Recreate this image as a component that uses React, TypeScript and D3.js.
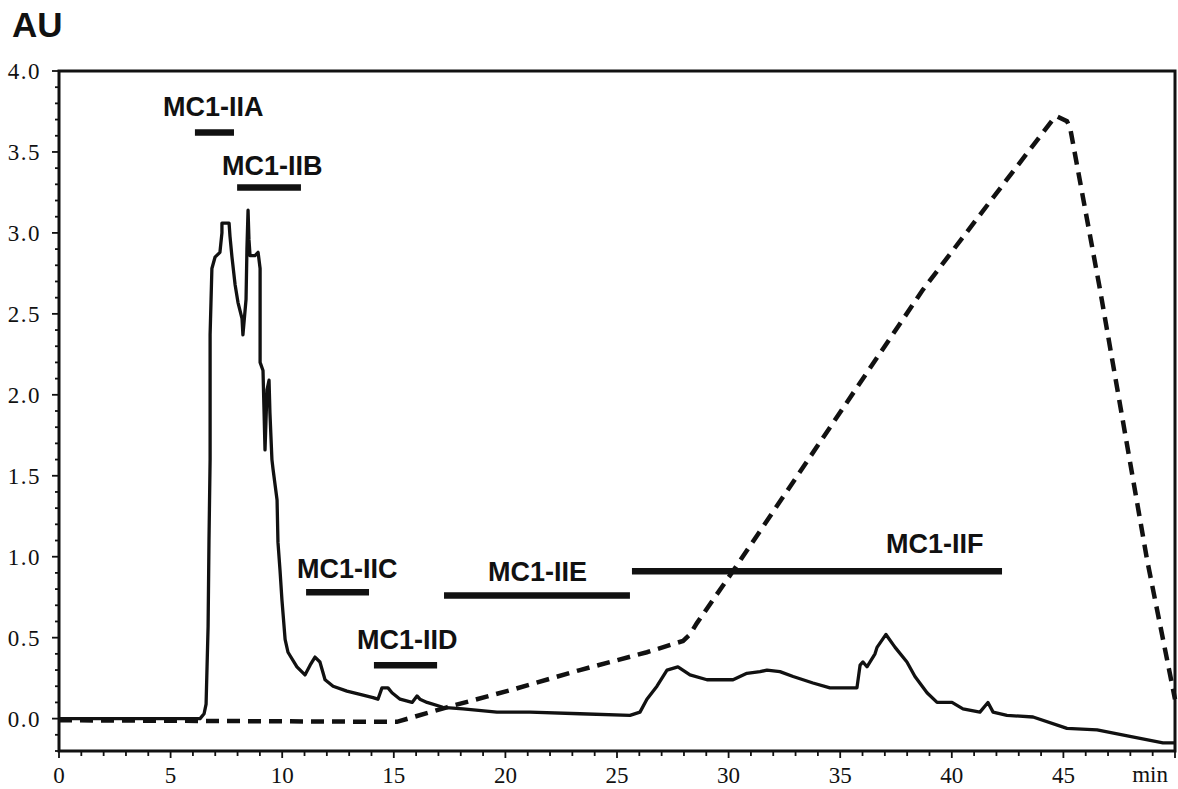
import { useEffect, useRef } from "react";
import * as d3 from "d3";

const W = 1178, H = 789;
const PLOT = { left: 59, right: 1175, top: 71, bottom: 751 };

// chromatogram trace (min, AU)
const traceTime = [
  0, 6.32, 6.5, 6.59, 6.68, 6.72, 6.77, 6.77, 6.77, 6.85, 6.99, 7.21, 7.3, 7.3, 7.62, 7.66, 7.75, 7.89,
  8.02, 8.2, 8.24, 8.38, 8.42, 8.47, 8.51, 8.56, 8.78, 8.92, 9.01, 9.01, 9.14, 9.23, 9.32, 9.41, 9.45,
  9.54, 9.59, 9.77, 9.81, 9.9, 9.99, 10.13, 10.26, 10.66, 11.02, 11.25, 11.47, 11.69, 11.92, 12.28,
  12.9, 13.49, 14.07, 14.29, 14.47, 14.74, 14.92, 15.28, 15.82, 16.04, 16.17, 16.49, 17.2, 18.1,
  19.62, 21.1, 23.34, 25.58, 26.03, 26.34, 26.79, 27.24, 27.73, 28.27, 29.03, 30.2, 30.82, 31.41,
  31.72, 32.3, 32.89, 33.78, 34.54, 35.75, 35.89, 36.02, 36.2, 36.56, 36.65, 37.05, 37.46, 37.99,
  38.35, 38.89, 39.34, 40.01, 40.5, 41.26, 41.62, 41.85, 42.47, 43.64, 45.16, 46.51, 47.98, 49.46, 50,
];
const traceAU = [
  0, 0, 0.03, 0.09, 0.57, 1.1, 1.6, 2.09, 2.37, 2.78, 2.85, 2.88, 3.0, 3.06, 3.06, 2.98, 2.85, 2.68,
  2.57, 2.47, 2.37, 2.59, 2.9, 3.14, 2.96, 2.86, 2.86, 2.88, 2.78, 2.2, 2.15, 1.66, 2.03, 2.09, 1.89,
  1.6, 1.54, 1.35, 1.09, 0.92, 0.73, 0.49, 0.41, 0.32, 0.27, 0.33, 0.38, 0.35, 0.24, 0.2,
  0.17, 0.15, 0.13, 0.12, 0.19, 0.19, 0.16, 0.12, 0.1, 0.14, 0.12, 0.1, 0.07, 0.06,
  0.04, 0.04, 0.03, 0.02, 0.04, 0.12, 0.2, 0.3, 0.32, 0.27, 0.24, 0.24, 0.28, 0.29,
  0.3, 0.29, 0.26, 0.22, 0.19, 0.19, 0.33, 0.35, 0.32, 0.4, 0.44, 0.52, 0.44, 0.35,
  0.26, 0.16, 0.1, 0.1, 0.06, 0.04, 0.1, 0.04, 0.02, 0.01, -0.06, -0.07, -0.11, -0.15, -0.15,
];

// gradient profile (dashed)
const gradTime = [0, 15.14, 17.38, 20.34, 23.34, 26.34, 27.96, 28.27, 28.58, 30.29, 38.71, 42.47, 44.53, 44.71, 45.16, 45.3, 46.64, 48.75, 50];
const gradLevel = [-0.01, -0.02, 0.07, 0.18, 0.3, 0.41, 0.48, 0.52, 0.59, 0.93, 2.65, 3.33, 3.7, 3.72, 3.69, 3.65, 2.65, 0.98, 0.12];

// collected fractions
const fractionNames = ["MC1-IIA", "MC1-IIB", "MC1-IIC", "MC1-IID", "MC1-IIE", "MC1-IIF"];
const fractionStart = [6.09, 7.98, 11.07, 14.11, 17.25, 25.67];
const fractionEnd = [7.84, 10.84, 13.89, 16.94, 25.58, 42.25];
const fractionLevel = [3.62, 3.28, 0.78, 0.33, 0.76, 0.91];
const labelTime = [4.66, 7.3, 10.66, 13.35, 19.22, 37.05];
const labelLevel = [3.72, 3.36, 0.87, 0.43, 0.85, 1.02];

const xTickLabels = ["0", "5", "10", "15", "20", "25", "30", "35", "40", "45"];
const yTickLabels = ["0.0", "0.5", "1.0", "1.5", "2.0", "2.5", "3.0", "3.5", "4.0"];

export default function App() {
  const svgRef = useRef<SVGSVGElement>(null);

  useEffect(() => {
    const svg = d3.select(svgRef.current);
    svg.selectAll("*").remove();

    const x = d3.scaleLinear().domain([0, 50]).range([PLOT.left, PLOT.right]);
    const y = d3.scaleLinear().domain([-0.2, 4.0]).range([PLOT.bottom, PLOT.top]);

    const serif = "Liberation Serif";
    const sans = "Liberation Sans";

    // y ticks (minor every 0.1)
    const yg = svg.append("g");
    d3.range(-2, 41).forEach(i => {
      const major = i % 5 === 0;
      yg.append("line")
        .attr("x1", PLOT.left - (major ? 7 : 4)).attr("x2", PLOT.left)
        .attr("y1", y(i / 10)).attr("y2", y(i / 10))
        .attr("stroke", "#111").attr("stroke-width", 1.8);
    });
    yg.selectAll("text.yl").data(yTickLabels).join("text")
      .attr("x", 41).attr("y", d => y(+d)).attr("dy", "0.35em")
      .attr("text-anchor", "end").style("font-family", serif).style("font-size", "23px")
      .attr("letter-spacing", 1.5)
      .attr("fill", "#111").text(d => d);

    // x ticks (minor every 1 min)
    const xg = svg.append("g");
    d3.range(0, 51).forEach(t => {
      xg.append("line")
        .attr("x1", x(t)).attr("x2", x(t))
        .attr("y1", PLOT.bottom).attr("y2", PLOT.bottom + (t % 5 === 0 ? 7 : 5))
        .attr("stroke", "#111").attr("stroke-width", 1.8);
    });
    xg.selectAll("text.xl").data(xTickLabels).join("text")
      .attr("x", d => x(+d)).attr("y", 783)
      .attr("text-anchor", "middle").style("font-family", serif).style("font-size", "23px")
      .attr("fill", "#111").text(d => d);
    xg.append("text")
      .attr("x", x(50) - 7).attr("y", 782)
      .attr("text-anchor", "end").style("font-family", serif).style("font-size", "23px")
      .attr("fill", "#111").text("min");

    // frame
    svg.append("rect")
      .attr("x", PLOT.left).attr("y", PLOT.top)
      .attr("width", PLOT.right - PLOT.left).attr("height", PLOT.bottom - PLOT.top)
      .attr("fill", "none").attr("stroke", "#111").attr("stroke-width", 3);

    // AU title
    svg.append("text")
      .attr("x", 12).attr("y", 37)
      .style("font-family", sans).attr("font-weight", "bold").style("font-size", "35px")
      .attr("fill", "#111").text("AU");

    // gradient line
    const grad = d3.line<number>().x((_, i) => x(gradTime[i])).y(d => y(d));
    svg.append("path")
      .attr("d", grad(gradLevel))
      .attr("fill", "none").attr("stroke", "#111").attr("stroke-width", 4.5)
      .attr("stroke-dasharray", "13,8");

    // chromatogram
    const trace = d3.line<number>().x((_, i) => x(traceTime[i])).y(d => y(d));
    svg.append("path")
      .attr("d", trace(traceAU))
      .attr("fill", "none").attr("stroke", "#111").attr("stroke-width", 3.3)
      .attr("stroke-linejoin", "round");

    // fraction bars + labels
    const fg = svg.append("g");
    fractionNames.forEach((name, i) => {
      fg.append("line")
        .attr("x1", x(fractionStart[i])).attr("x2", x(fractionEnd[i]))
        .attr("y1", y(fractionLevel[i])).attr("y2", y(fractionLevel[i]))
        .attr("stroke", "#111").attr("stroke-width", 6.5);
      fg.append("text")
        .attr("x", x(labelTime[i])).attr("y", y(labelLevel[i]))
        .style("font-family", sans).attr("font-weight", "bold").style("font-size", "27px")
        .attr("fill", "#111").text(name);
    });
  }, []);

  return (
    <div style={{ position: "absolute", left: 0, top: 0, background: "#fff" }}>
      <svg ref={svgRef} width={W} height={H} style={{ display: "block" }} />
    </div>
  );
}
